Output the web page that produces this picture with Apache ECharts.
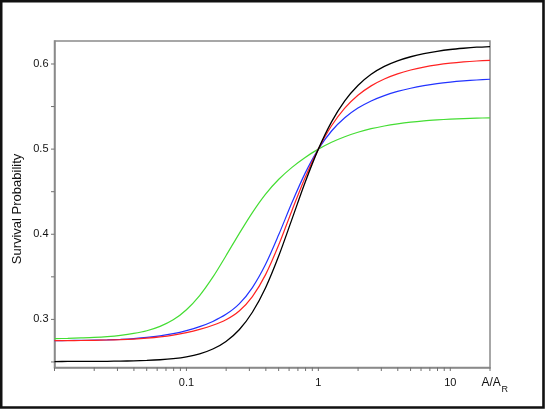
<!DOCTYPE html>
<html>
<head>
<meta charset="utf-8">
<script src="https://cdn.jsdelivr.net/npm/echarts@6/dist/echarts.min.js"></script>
<style>
html,body{margin:0;padding:0;background:#fff;}
#c{width:545px;height:409px;}
</style>
</head>
<body>
<div id="c"></div>
<script>
// A/A_R sample positions (log axis)
const aValues = [0.01, 0.01259, 0.01585, 0.01995, 0.02512, 0.03162, 0.03981, 0.05012, 0.0631, 0.07943,
                 0.1, 0.1259, 0.1585, 0.1995, 0.2512, 0.3162, 0.3981, 0.5012, 0.631, 0.7943,
                 1, 1.259, 1.585, 1.995, 2.512, 3.162, 3.981, 5.012, 6.31, 7.943,
                 10, 12.59, 15.85, 20];
const blackVals = [0.2505, 0.2506, 0.2506, 0.2507, 0.2508, 0.2510, 0.2513, 0.2518, 0.2526, 0.2539,
                   0.2560, 0.2595, 0.2652, 0.2741, 0.2879, 0.3084, 0.3372, 0.3747, 0.4178, 0.4611,
                   0.5000, 0.5320, 0.5567, 0.5748, 0.5879, 0.5972, 0.6037, 0.6085, 0.6122, 0.6149,
                   0.6170, 0.6185, 0.6197, 0.6205];
const redVals   = [0.2750, 0.2751, 0.2752, 0.2754, 0.2758, 0.2762, 0.2769, 0.2780, 0.2795, 0.2816,
                   0.2845, 0.2883, 0.2931, 0.2996, 0.3099, 0.3268, 0.3526, 0.3876, 0.4280, 0.4668,
                   0.5000, 0.5274, 0.5481, 0.5632, 0.5743, 0.5824, 0.5884, 0.5929, 0.5963, 0.5989,
                   0.6009, 0.6024, 0.6035, 0.6043];
const blueVals  = [0.2750, 0.2752, 0.2753, 0.2756, 0.2760, 0.2766, 0.2775, 0.2788, 0.2807, 0.2833,
                   0.2869, 0.2915, 0.2976, 0.3059, 0.3182, 0.3374, 0.3647, 0.3996, 0.4372, 0.4718,
                   0.5000, 0.5213, 0.5368, 0.5482, 0.5566, 0.5629, 0.5678, 0.5715, 0.5745, 0.5769,
                   0.5787, 0.5801, 0.5812, 0.5821];
const greenVals = [0.2774, 0.2777, 0.2782, 0.2788, 0.2798, 0.2813, 0.2835, 0.2867, 0.2918, 0.2995,
                   0.3114, 0.3280, 0.3496, 0.3748, 0.4008, 0.4255, 0.4472, 0.4646, 0.4786, 0.4903,
                   0.5000, 0.5081, 0.5146, 0.5198, 0.5240, 0.5272, 0.5297, 0.5317, 0.5332, 0.5343,
                   0.5352, 0.5359, 0.5364, 0.5368];

const xMin = 0.01, xMax = 20, yMin = 0.2435, yMax = 0.627;
const xTickValues = [0.01,0.02,0.03,0.04,0.05,0.06,0.07,0.08,0.09,0.1,0.2,0.3,0.4,0.5,0.6,0.7,0.8,0.9,1,2,3,4,5,6,7,8,9,10,20];
const yTickValues = [0.25,0.3,0.35,0.4,0.45,0.5,0.55,0.6];
const yLabelValues = [0.3,0.4,0.5,0.6];

const FONT = 'Liberation Sans, Arial, sans-serif';
const TICK_COLOR = '#707070';

function pairs(vals){ return aValues.map((a,i)=>[a, vals[i]]); }

const chart = echarts.init(document.getElementById('c'), null, {renderer:'canvas'});
const lineCommon = {type:'line', showSymbol:false, smooth:0.3, animation:false, silent:true};
chart.setOption({
  animation:false,
  backgroundColor:'#ffffff',
  grid:{left:54.5, right:55, top:41, bottom:41.5, show:true, borderColor:'#8a8a8a', borderWidth:1.5, outerBoundsMode:'none'},
  xAxis:{
    type:'log', logBase:10, min:xMin, max:xMax,
    axisLine:{show:true, onZero:false, lineStyle:{color:'#8a8a8a', width:1.5}},
    axisTick:{show:false},
    axisLabel:{show:true, showMinLabel:false, showMaxLabel:false, margin:10, fontSize:11, color:'#111', fontFamily:FONT,
      formatter:function(v){ return String(v); }},
    splitLine:{show:false}, minorTick:{show:false}
  },
  yAxis:{
    type:'value', min:yMin, max:yMax,
    axisLine:{show:true, onZero:false, lineStyle:{color:'#8a8a8a', width:1.5}},
    axisTick:{show:false},
    axisLabel:{show:true, customValues:yLabelValues, margin:6, fontSize:11, color:'#111', fontFamily:FONT,
      formatter:function(v){ return Number(v).toFixed(1); }},
    splitLine:{show:false}
  },
  series:[
    {type:'custom', clip:false, silent:true, z:1, data:xTickValues.map(v=>[v]),
      renderItem:function(params, api){
        const p = api.coord([api.value(0), yMin]);
        return {type:'line', shape:{x1:p[0], y1:p[1], x2:p[0], y2:p[1]+3.5}, style:{stroke:TICK_COLOR, lineWidth:1}};
      }},
    {type:'custom', clip:false, silent:true, z:1, data:yTickValues.map(v=>[xMin, v]),
      renderItem:function(params, api){
        const p = api.coord([xMin, api.value(1)]);
        return {type:'line', shape:{x1:p[0]-3.5, y1:p[1], x2:p[0], y2:p[1]}, style:{stroke:TICK_COLOR, lineWidth:1}};
      }},
    Object.assign({}, lineCommon, {name:'green', data:pairs(greenVals), lineStyle:{color:'#44dd33', width:1.2}, itemStyle:{color:'#44dd33'}}),
    Object.assign({}, lineCommon, {name:'blue', data:pairs(blueVals), lineStyle:{color:'#2233ff', width:1.2}, itemStyle:{color:'#2233ff'}}),
    Object.assign({}, lineCommon, {name:'red', data:pairs(redVals), lineStyle:{color:'#ff2222', width:1.2}, itemStyle:{color:'#ff2222'}}),
    Object.assign({}, lineCommon, {name:'black', data:pairs(blackVals), lineStyle:{color:'#000000', width:1.3}, itemStyle:{color:'#000'}})
  ],
  graphic:[
    {type:'rect', shape:{x:1.2, y:1.2, width:542.3, height:406.3}, style:{fill:null, stroke:'#111', lineWidth:2.6}, silent:true, z:100},
    {type:'text', x:17.8, y:209, rotation:Math.PI/2, style:{text:'Survival Probability', font:'13px '+FONT, fill:'#111', textAlign:'center', textVerticalAlign:'middle'}},
    {type:'text', x:481.5, y:383, style:{text:'A/A', font:'12px '+FONT, fill:'#111', textAlign:'left', textVerticalAlign:'middle'}},
    {type:'text', x:501.5, y:390, style:{text:'R', font:'9px '+FONT, fill:'#111', textAlign:'left', textVerticalAlign:'middle'}}
  ]
});
</script>
</body>
</html>
